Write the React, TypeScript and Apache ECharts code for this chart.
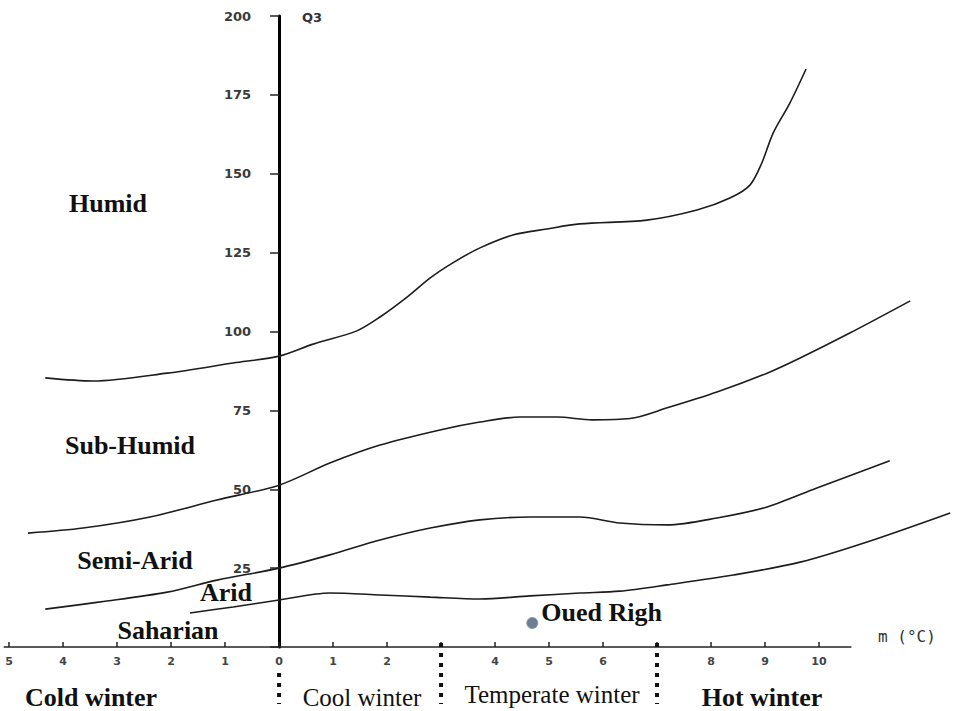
import React, { useEffect, useRef } from "react";
import * as echarts from "echarts";

// Emberger climagram boundaries: [m (°C), Q3]
const humidBoundary: [number, number][] = [
  [-4.33, 85.3], [-3.44, 84.3], [-2.07, 86.8], [-0.85, 90.0], [0, 92.2], [0.63, 96.0],
  [1.44, 100.2], [1.87, 104.6], [2.37, 110.9], [2.8, 117.0], [3.24, 122.0], [3.72, 126.5],
  [4.33, 130.6], [4.96, 132.5], [5.57, 134.1], [6.81, 135.3], [7.74, 138.5], [8.35, 142.3],
  [8.72, 146.4], [8.94, 153.4], [9.15, 162.9], [9.46, 172.4], [9.76, 183.2],
];
const subHumidBoundary: [number, number][] = [
  [-4.65, 36.1], [-3.63, 37.7], [-2.39, 41.2], [-1.15, 46.6], [0, 51.3], [0.94, 58.3],
  [1.87, 64.0], [2.98, 68.8], [3.72, 71.3], [4.46, 72.9], [5.15, 72.9], [5.8, 72.0],
  [6.5, 72.4], [7.19, 75.8], [8.11, 80.8], [9.04, 86.8], [9.65, 91.6], [10.57, 99.5],
  [11.69, 109.7],
];
const semiAridBoundary: [number, number][] = [
  [-4.33, 12.0], [-3.31, 14.3], [-2.07, 17.4], [-1.15, 21.2], [0, 25.0], [0.94, 29.2],
  [1.87, 33.9], [2.8, 37.7], [3.72, 40.3], [4.65, 41.2], [5.57, 41.2], [6.31, 39.3],
  [7.19, 38.7], [8.11, 40.9], [9.04, 44.4], [9.96, 50.4], [11.31, 59.0],
];
const aridBoundary: [number, number][] = [
  [-1.65, 10.8], [-0.85, 12.7], [0, 14.9], [0.94, 17.1], [1.87, 16.5], [2.8, 15.8],
  [3.72, 15.2], [4.65, 16.2], [5.57, 17.1], [6.31, 17.7], [7.19, 19.7], [8.41, 22.8],
  [9.65, 26.9], [10.89, 33.3], [12.43, 42.5],
];
const station: [number, number][] = [[4.69, 7.6]];
const stationName = "Oued Righ";

const xTickValues = [-5, -4, -3, -2, -1, 0, 1, 2, 3, 4, 5, 6, 7, 8, 9, 10];
const xLabelValues = [-5, -4, -3, -2, -1, 0, 1, 2, 4, 5, 6, 8, 9, 10];
const xAxisExtent: [number, number][] = [[-5.1, 0], [10.6, 0]];
const winterBoundaries = [0, 3, 7];

const climateLabels = [
  { text: "Humid", x: 108, y: 203 },
  { text: "Sub-Humid", x: 130, y: 445 },
  { text: "Semi-Arid", x: 135, y: 560 },
  { text: "Arid", x: 226, y: 592 },
  { text: "Saharian", x: 168, y: 630 },
];
const winterLabels = [
  { text: "Cold winter", x: 91, y: 697, weight: "bold", size: 26 },
  { text: "Cool winter", x: 362, y: 697, weight: "normal", size: 25 },
  { text: "Temperate winter", x: 552, y: 694, weight: "normal", size: 25 },
  { text: "Hot winter", x: 762, y: 697, weight: "bold", size: 26 },
];

const SERIF = "'Liberation Serif', 'Times New Roman', serif";
const GRID_LEFT = 1;

export default function App() {
  const ref = useRef<HTMLDivElement>(null);

  useEffect(() => {
    if (!ref.current) return;
    const chart = echarts.init(ref.current, null, { renderer: "svg" });

    const curve = (name: string, data: [number, number][]) => ({
      type: "line",
      name,
      data,
      smooth: 0.3,
      symbol: "none",
      silent: true,
      lineStyle: { color: "#1c1c1c", width: 1.6 },
      z: 3,
    });

    chart.setOption({
      animation: false,
      backgroundColor: "#ffffff",
      grid: {
        left: GRID_LEFT,
        right: 2,
        top: 16,
        bottom: 64,
        containLabel: false,
        outerBoundsMode: "none",
      },
      xAxis: {
        type: "value",
        min: -5.15,
        max: 12.5,
        axisLine: { show: false },
        axisTick: {
          show: true,
          inside: true,
          length: 5,
          customValues: xTickValues,
          lineStyle: { color: "#222", width: 1.5 },
        },
        axisLabel: {
          show: true,
          customValues: xLabelValues,
          formatter: (v: number) => String(Math.abs(v)),
          margin: 9,
          color: "#444",
          fontFamily: "DejaVu Sans",
          fontWeight: "bold",
          fontSize: 11,
        },
        splitLine: { show: false },
      },
      yAxis: {
        type: "value",
        min: 0,
        max: 200,
        interval: 25,
        position: "left",
        axisLine: { show: true, onZero: false, lineStyle: { color: "#000", width: 3 } },
        axisTick: { show: true, inside: false, length: 9, lineStyle: { color: "#222", width: 1.5 } },
        axisLabel: {
          margin: 28,
          formatter: (v: number) => (v === 0 ? "" : String(v)),
          color: "#3a3a3a",
          fontFamily: "DejaVu Sans",
          fontWeight: "bold",
          fontSize: 13,
        },
        splitLine: { show: false },
      },
      series: [
        {
          type: "line",
          name: "axis",
          data: xAxisExtent,
          symbol: "none",
          silent: true,
          clip: false,
          lineStyle: { color: "#222", width: 1.6 },
          z: 2,
        },
        curve("Humid / Sub-Humid", humidBoundary),
        curve("Sub-Humid / Semi-Arid", subHumidBoundary),
        curve("Semi-Arid / Arid", semiAridBoundary),
        curve("Arid / Saharian", aridBoundary),
        {
          type: "scatter",
          name: stationName,
          data: station,
          symbol: "circle",
          symbolSize: 11,
          itemStyle: { color: "#6f7d93", borderColor: "#8a96aa", borderWidth: 1, opacity: 1 },
          label: {
            show: true,
            formatter: stationName,
            position: "right",
            distance: 3,
            offset: [0, -11],
            fontFamily: SERIF,
            fontWeight: "bold",
            fontSize: 26,
            color: "#111",
            opacity: 1,
          },
          z: 5,
        },
      ],
    });

    const toPx = (x: number, y: number) =>
      chart.convertToPixel({ gridIndex: 0 }, [x, y]) as number[];
    const origin = toPx(0, 0);
    const top = toPx(0, 200);

    const graphic: any[] = [];
    winterBoundaries.forEach((b) => {
      const p = toPx(b, 0);
      graphic.push({
        type: "line",
        shape: { x1: p[0], y1: b === 0 ? origin[1] + 26 : origin[1] - 4, x2: p[0], y2: 704 },
        style: { stroke: "#111", lineWidth: 4, lineDash: [4, 6] },
        z: 10,
      });
    });
    climateLabels.forEach((l) =>
      graphic.push({
        type: "text",
        x: l.x,
        y: l.y,
        style: {
          text: l.text,
          font: `bold 26px ${SERIF}`,
          fill: "#111",
          textAlign: "center",
          textVerticalAlign: "middle",
        },
        z: 10,
      })
    );
    winterLabels.forEach((l) =>
      graphic.push({
        type: "text",
        x: l.x,
        y: l.y,
        style: {
          text: l.text,
          font: `${l.weight} ${l.size}px ${SERIF}`,
          fill: "#111",
          textAlign: "center",
          textVerticalAlign: "middle",
        },
        z: 10,
      })
    );
    graphic.push({
      type: "text",
      x: top[0] + 23,
      y: top[1] + 1,
      style: {
        text: "Q3",
        font: "bold 13px 'DejaVu Sans'",
        fill: "#333",
        textAlign: "left",
        textVerticalAlign: "middle",
      },
      z: 10,
    });
    graphic.push({
      type: "text",
      x: 878,
      y: origin[1] - 11,
      style: {
        text: "m (°C)",
        font: "16px 'DejaVu Sans Mono'",
        fill: "#333",
        textAlign: "left",
        textVerticalAlign: "middle",
      },
      z: 10,
    });

    // move the Q3 axis onto m = 0, keeping its ticks and labels with it
    chart.setOption({ yAxis: { offset: -(origin[0] - GRID_LEFT) }, graphic });

    return () => chart.dispose();
  }, []);

  return (
    <div
      ref={ref}
      style={{ position: "fixed", left: 0, top: 0, width: 956, height: 711, background: "#fff" }}
    />
  );
}
